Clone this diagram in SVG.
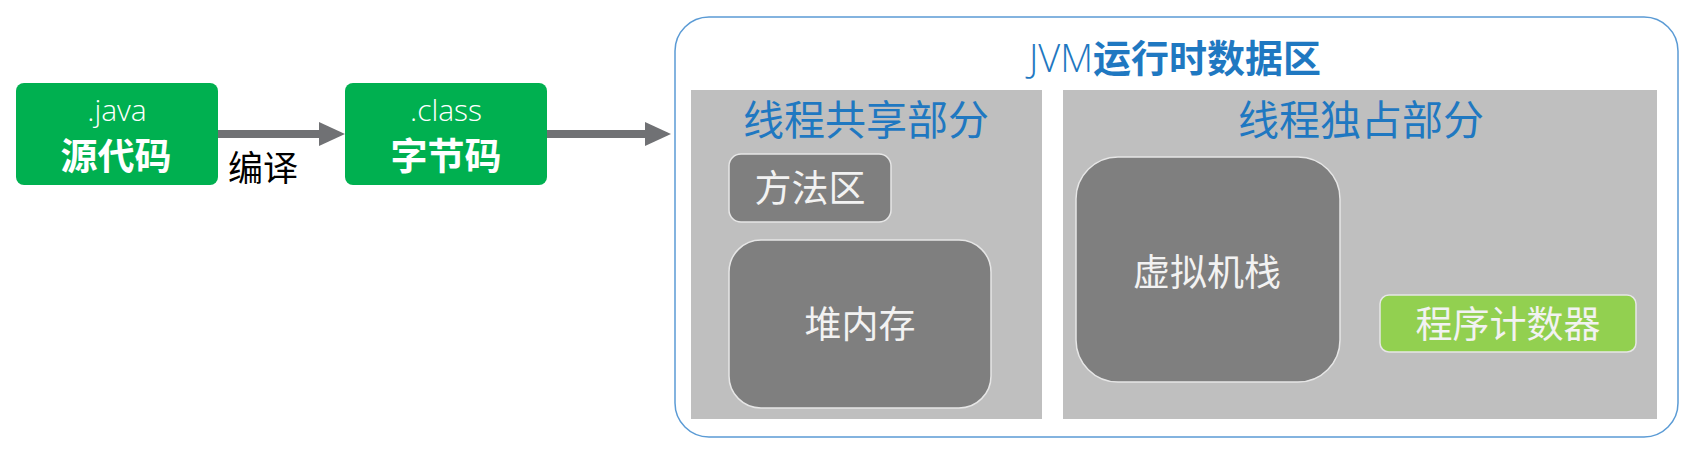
<svg xmlns="http://www.w3.org/2000/svg" width="1698" height="454" viewBox="0 0 1698 454">
<defs>
<style>
.cjk{font-family:"Noto Sans CJK SC","Noto Sans",sans-serif;}
.lat{font-family:"Open Sans","Liberation Sans",sans-serif;font-weight:300;}
.green{fill:#00b050;}
.panel{fill:#bfbfbf;}
.dark{fill:#7f7f7f;stroke:#e6e6e6;stroke-width:1.5;}
.lgreen{fill:#92d050;stroke:#e6e6e6;stroke-width:1.5;}
.wt{fill:#f2f2f2;font-size:37px;text-anchor:middle;}
.hd{fill:#1f78c1;font-size:41px;text-anchor:middle;}
.conn{stroke:#707174;stroke-width:8;fill:none;}
.head{fill:#707174;}
</style>
</defs>
<rect width="1698" height="454" fill="#ffffff"/>

<g id="jvm-area">
<rect x="675" y="17" width="1003" height="420" rx="34" ry="34" fill="#ffffff" stroke="#5b9bd5" stroke-width="1.5"/>
<text x="1175" y="72" text-anchor="middle" fill="#1f78c1"><tspan class="lat" font-size="38">JVM</tspan><tspan class="cjk" font-size="38" font-weight="bold">运行时数据区</tspan></text>
</g>

<g id="shared-panel">
<rect class="panel" x="691" y="90" width="351" height="329"/>
<text class="cjk hd" x="866" y="135">线程共享部分</text>
</g>

<g id="private-panel">
<rect class="panel" x="1063" y="90" width="594" height="329"/>
<text class="cjk hd" x="1361" y="135">线程独占部分</text>
</g>

<g id="method-area">
<rect class="dark" x="729" y="154" width="162" height="68" rx="12" ry="12"/>
<text class="cjk wt" x="810" y="202" font-size="36">方法区</text>
</g>

<g id="heap">
<rect class="dark" x="729" y="240" width="262" height="168" rx="32" ry="32"/>
<text class="cjk wt" x="860" y="338">堆内存</text>
</g>

<g id="vm-stack">
<rect class="dark" x="1076" y="157" width="264" height="225" rx="42" ry="42"/>
<text class="cjk wt" x="1207" y="286">虚拟机栈</text>
</g>

<g id="pc-register">
<rect class="lgreen" x="1380" y="295" width="256" height="57" rx="9" ry="9"/>
<text class="cjk wt" x="1508" y="338">程序计数器</text>
</g>

<g id="source">
<rect class="green" x="16" y="83" width="202" height="102" rx="8" ry="8"/>
<text class="lat" x="117" y="121" font-size="30" fill="#ffffff" text-anchor="middle">.java</text>
<text class="cjk" x="116" y="170" font-size="37" font-weight="bold" fill="#ffffff" text-anchor="middle">源代码</text>
</g>

<g id="bytecode">
<rect class="green" x="345" y="83" width="202" height="102" rx="8" ry="8"/>
<text class="lat" x="446" y="121" font-size="30" fill="#ffffff" text-anchor="middle">.class</text>
<text class="cjk" x="446" y="170" font-size="37" font-weight="bold" fill="#ffffff" text-anchor="middle">字节码</text>
</g>

<g id="connectors">
<line class="conn" x1="218" y1="134" x2="320" y2="134"/>
<polygon class="head" points="319,122 345,134 319,146"/>
<text class="cjk" x="263" y="181" font-size="35" fill="#000000" text-anchor="middle">编译</text>
<line class="conn" x1="547" y1="134" x2="646" y2="134"/>
<polygon class="head" points="645,122 671,134 645,146"/>
</g>
</svg>
